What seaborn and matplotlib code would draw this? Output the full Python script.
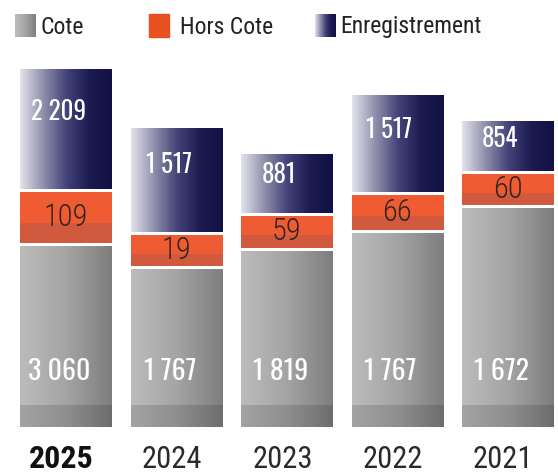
import numpy as np
import pandas as pd
import seaborn as sns
import matplotlib.pyplot as plt
from matplotlib.colors import LinearSegmentedColormap
from matplotlib.patches import Rectangle

# labels shown on the chart
years = ['2025', '2024', '2023', '2022', '2021']
cote = ['3 060', '1 767', '1 819', '1 767', '1 672']
hors_cote = ['109', '19', '59', '66', '60']
enreg = ['2 209', '1 517', '881', '1 517', '854']

# segment heights as drawn (the infographic is not to scale)
cote_h = [181, 158, 176, 194, 219]
hors_h = [51, 31, 32, 35, 31]
enreg_h = [120, 104, 59, 97, 50]

gap = 3
df = pd.DataFrame({'year': years, 'cote': cote_h, 'hors': hors_h, 'enreg': enreg_h})
df['hors_bot'] = df.cote + gap
df['enreg_bot'] = df.hors_bot + df.hors + gap

sns.set_theme(style='white')
cond = ['Oswald', 'Roboto Condensed', 'DejaVu Sans']
plt.rcParams['font.family'] = ['Roboto Condensed', 'DejaVu Sans']

fig = plt.figure(figsize=(5.58, 4.76), dpi=100)
ax = fig.add_axes([0, 0, 1, 1])

W = 0.825
sns.barplot(df, x='year', y='cote', ax=ax, width=W, color='gray')
sns.barplot(df, x='year', y='hors', ax=ax, width=W, color='orange', bottom=df.hors_bot.values)
sns.barplot(df, x='year', y='enreg', ax=ax, width=W, color='navy', bottom=df.enreg_bot.values)
# darker base strip
sns.barplot(df.assign(base=22), x='year', y='base', ax=ax, width=W, color='black')

gray_cm = LinearSegmentedColormap.from_list('g', ['#bcbcbc', '#a4a4a4', '#7e7e7e'])
blue_cm = LinearSegmentedColormap.from_list('b', ['#e2e2ec', '#9090ac', '#44447a', '#1c1c52', '#121044'])
lin = np.linspace(0, 1, 200)[None, :]
orange_rows = np.array([[[0.82, 0.35, 0.24]], [[0.82, 0.35, 0.24]], [[0.94, 0.36, 0.20]],
                        [[0.94, 0.36, 0.20]], [[0.94, 0.36, 0.20]]])

n = len(years)
for i, p in enumerate(ax.patches):
    x0, y0 = p.get_x(), p.get_y()
    w, h = p.get_width(), p.get_height()
    layer = i // n
    ext = [x0, x0 + w, y0, y0 + h]
    if layer == 0:
        im = ax.imshow(lin, cmap=gray_cm, extent=ext, aspect='auto', zorder=2)
    elif layer == 1:
        im = ax.imshow(orange_rows, extent=ext, aspect='auto', zorder=2, origin='lower',
                       interpolation='nearest')
    elif layer == 2:
        im = ax.imshow(lin, cmap=blue_cm, extent=ext, aspect='auto', zorder=2)
    else:
        im = ax.imshow(np.zeros((1, 1, 4)) + [0, 0, 0, 0.13], extent=ext, aspect='auto', zorder=3)
    im.set_clip_path(p)
    p.set_facecolor('none')
    p.set_edgecolor('none')

for i in range(n):
    ax.text(i - 0.06, 55, cote[i], ha='center', va='center', color='white',
            fontsize=20, fontweight='semibold', family=cond, zorder=5)
    ax.text(i, df.hors_bot[i] + hors_h[i] / 2, hors_cote[i], ha='center', va='center',
            color='#33261f', fontsize=22, fontweight='light', zorder=5)
    ax.text(i - 0.07, df.enreg_bot[i] + enreg_h[i] * 0.64, enreg[i], ha='center', va='center',
            color='white', fontsize=18, fontweight='semibold', family=cond, zorder=5)
    ax.text(i - 0.04, -32, years[i], ha='center', va='center', color='#111111' if i == 0 else '#2a2a2a',
            fontsize=23 if i == 0 else 22, fontweight='bold' if i == 0 else 'normal')

# legend (pixel anchors converted to data units)
legend = [('Cote', gray_cm, 15, 40), ('Hors Cote', None, 149, 180), ('Enregistrement', blue_cm, 315, 340)]
for label, cm, px, tx in legend:
    xa = (px - 66) / 110.4
    xb = (px + 20 - 66) / 110.4
    ext = [xa, xb, 427 - 37, 427 - 14]
    if cm is None:
        ax.add_patch(Rectangle((xa, 427 - 37), xb - xa, 23, color='#e8501f', zorder=4))
    else:
        ax.imshow(lin, cmap=cm, extent=ext, aspect='auto', zorder=4)
    ax.text((tx - 66) / 110.4, 427 - 27, label, ha='left', va='center', fontsize=17,
            color='#222222', zorder=5)

ax.set_xlim(-66 / 110.4, (558 - 66) / 110.4)
ax.set_ylim(-49, 427)
ax.axis('off')

fig.savefig('out.png', dpi=100)
